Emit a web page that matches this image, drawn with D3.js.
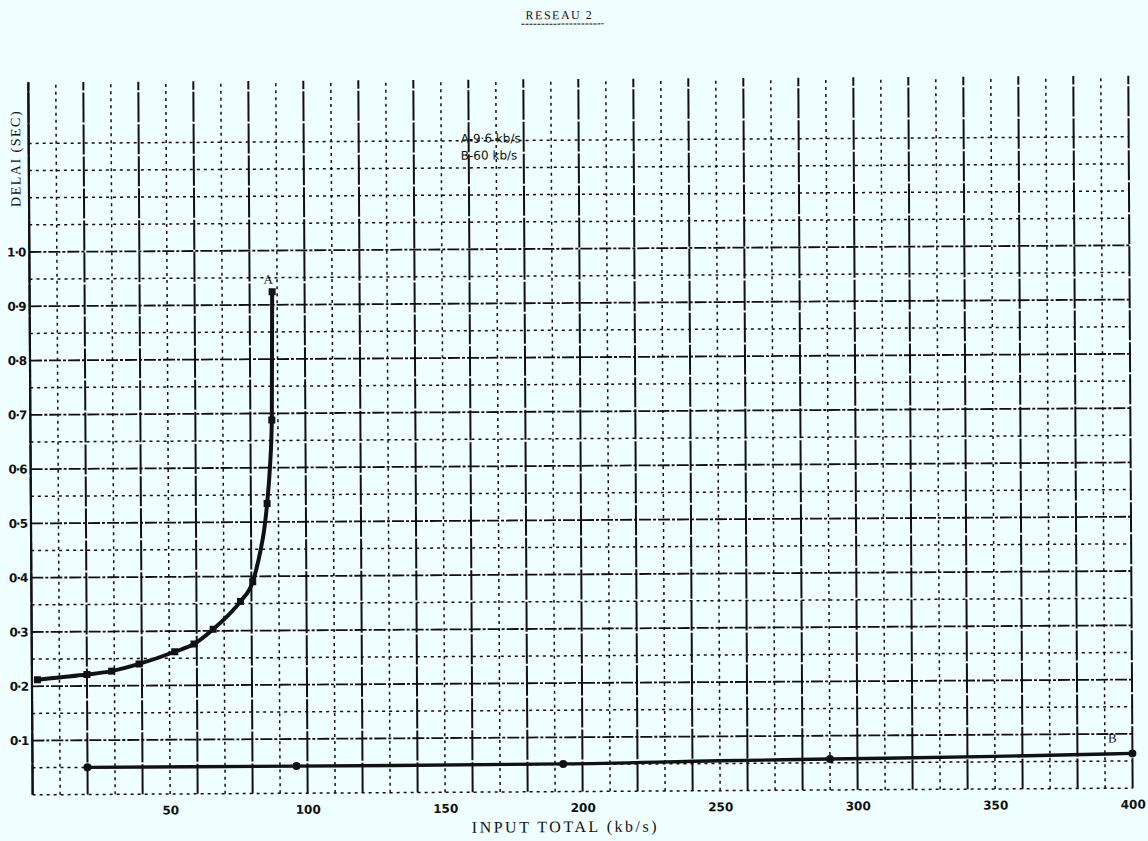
<!DOCTYPE html>
<html>
<head>
<meta charset="utf-8">
<script src="https://cdn.jsdelivr.net/npm/d3@7"></script>
<style>
  html, body { margin: 0; padding: 0; background: #effefe; }
  svg { display: block; }
</style>
</head>
<body>
<div id="chart"></div>
<script>
// curve A: 9.6 kb/s line
const aInput = [2, 10, 20, 29, 39, 52, 59, 66, 71, 76, 80.5, 83.5, 84.7, 85.9, 87, 87.8, 88.2];
const aDelay = [0.212, 0.216, 0.221, 0.227, 0.240, 0.262, 0.276, 0.303, 0.326, 0.354, 0.390, 0.450, 0.483, 0.534, 0.60, 0.688, 0.924];
// points that carry a plotted marker on A
const aMarked = [2, 20, 29, 39, 52, 59, 66, 76, 80.5, 85.9, 87.8, 88.2];

// curve B: 60 kb/s line
const bInput = [20, 96, 193, 250, 290, 350, 400];
const bDelay = [0.050, 0.050, 0.051, 0.055, 0.057, 0.060, 0.064];
const bMarked = [20, 96, 193, 290, 400];

const xTicks = [50, 100, 150, 200, 250, 300, 350, 400];
const yTicks = [0.1, 0.2, 0.3, 0.4, 0.5, 0.6, 0.7, 0.8, 0.9, 1.0];

const legendLines = ["A-9·6 kb/s", "B-60 kb/s"];

const ink = "#111";
const margin = { top: 79, left: 30.5 },
  width = 1100,
  height = 712.5;

const svg = d3
  .select("#chart")
  .append("svg")
  .attr("width", 1148)
  .attr("height", 841)
  .style("background", "#effefe");

// the scan is slightly tilted
const page = svg.append("g").attr("transform", "rotate(-0.35, 580, 440)");

const g = page
  .append("g")
  .attr("transform", `translate(${margin.left},${margin.top})`);

const x = d3.scaleLinear().domain([0, 400]).range([0, width]);
const y = d3.scaleLinear().domain([0, 1.3125]).range([height, 0]);

// graph paper: every 10 kb/s, solid on multiples of 20
const vLines = d3.range(0, 401, 10);
g.selectAll(".vline")
  .data(vLines)
  .join("line")
  .attr("class", "vline")
  .attr("x1", (d) => x(d))
  .attr("x2", (d) => x(d))
  .attr("y1", y(0))
  .attr("y2", y(1.3125))
  .attr("stroke", ink)
  .attr("stroke-width", (d) => (d % 20 === 0 ? 2 : 1.5))
  .attr("stroke-dasharray", (d) => (d % 20 === 0 ? "30,2" : "3,4"));

// every 0.05 s, solid on tenths
const hLines = d3.range(0, 25).map((i) => i * 0.05);
g.selectAll(".hline")
  .data(hLines)
  .join("line")
  .attr("class", "hline")
  .attr("x1", x(0))
  .attr("x2", x(400))
  .attr("y1", (d) => y(d))
  .attr("y2", (d) => y(d))
  .attr("stroke", ink)
  .attr("stroke-width", (d, i) => (i % 2 === 0 && i > 0 && i < 22 ? 1.8 : 1.5))
  .attr("stroke-dasharray", (d, i) => (i % 2 === 0 && i > 0 && i < 22 ? "12,2,3,2" : "3,4"));

// left edge
g.append("line")
  .attr("x1", x(0))
  .attr("x2", x(0))
  .attr("y1", y(0))
  .attr("y2", y(1.3125))
  .attr("stroke", ink)
  .attr("stroke-width", 2.2);

// axes (labels only)
const xAxis = g
  .append("g")
  .attr("transform", `translate(0, ${height})`)
  .call(d3.axisBottom(x).tickValues(xTicks).tickSize(0).tickPadding(12));
xAxis.select(".domain").remove();
xAxis
  .selectAll("text")
  .attr("fill", ink)
  .style("font-family", "DejaVu Sans, sans-serif")
  .style("font-weight", "bold")
  .style("font-size", "12px");

const yAxis = g
  .append("g")
  .call(
    d3
      .axisLeft(y)
      .tickValues(yTicks)
      .tickSize(0)
      .tickPadding(4)
      .tickFormat((d) => d.toFixed(1).replace(".", "·"))
  );
yAxis.select(".domain").remove();
yAxis
  .selectAll("text")
  .attr("fill", ink)
  .style("font-family", "DejaVu Sans, sans-serif")
  .style("font-weight", "bold")
  .style("font-size", "12px")
  .style("letter-spacing", "-1px");

// curves
const line = d3
  .line()
  .curve(d3.curveMonotoneX)
  .x((d) => x(d[0]))
  .y((d) => y(d[1]));

const aData = aInput.map((v, i) => [v, aDelay[i]]);
const bData = bInput.map((v, i) => [v, bDelay[i]]);

g.append("path")
  .datum(aData)
  .attr("fill", "none")
  .attr("stroke", ink)
  .attr("stroke-width", 4)
  .attr("stroke-linejoin", "round")
  .attr("d", line);

g.append("path")
  .datum(bData)
  .attr("fill", "none")
  .attr("stroke", ink)
  .attr("stroke-width", 3.4)
  .attr("stroke-linejoin", "round")
  .attr("d", line);

g.selectAll(".amark")
  .data(aData.filter((d) => aMarked.includes(d[0])))
  .join("rect")
  .attr("class", "amark")
  .attr("x", (d) => x(d[0]) - 3.5)
  .attr("y", (d) => y(d[1]) - 3.5)
  .attr("width", 7)
  .attr("height", 7)
  .attr("fill", ink);

g.selectAll(".bmark")
  .data(bData.filter((d) => bMarked.includes(d[0])))
  .join("circle")
  .attr("class", "bmark")
  .attr("cx", (d) => x(d[0]))
  .attr("cy", (d) => y(d[1]))
  .attr("r", 4)
  .attr("fill", ink);

// curve labels
g.append("text")
  .attr("x", x(aInput[aInput.length - 1]) - 4)
  .attr("y", y(aDelay[aDelay.length - 1]) - 8)
  .attr("text-anchor", "middle")
  .attr("fill", ink)
  .style("font-family", "Liberation Serif, serif")
  .style("font-size", "13px")
  .text("A");

g.append("text")
  .attr("x", x(bInput[bInput.length - 1]) - 20)
  .attr("y", y(bDelay[bDelay.length - 1]) - 11)
  .attr("text-anchor", "middle")
  .attr("fill", ink)
  .style("font-family", "Liberation Serif, serif")
  .style("font-size", "13px")
  .text("B");

// legend
g.selectAll(".legend")
  .data(legendLines)
  .join("text")
  .attr("class", "legend")
  .attr("x", 432)
  .attr("y", (d, i) => 63 + i * 17)
  .attr("fill", ink)
  .style("font-family", "DejaVu Sans, sans-serif")
  .style("font-size", "12px")
  .text((d) => d);

// titles
page
  .append("text")
  .attr("x", 563)
  .attr("y", 832)
  .attr("text-anchor", "middle")
  .attr("fill", ink)
  .style("font-family", "Liberation Serif, serif")
  .style("font-size", "16px")
  .style("letter-spacing", "2.5px")
  .text("INPUT TOTAL (kb/s)");

page
  .append("text")
  .attr("transform", "translate(22, 155) rotate(-90)")
  .attr("text-anchor", "middle")
  .attr("fill", ink)
  .style("font-family", "Liberation Serif, serif")
  .style("font-size", "14px")
  .style("letter-spacing", "1.5px")
  .text("DELAI (SEC)");

page
  .append("text")
  .attr("x", 562)
  .attr("y", 19)
  .attr("text-anchor", "middle")
  .attr("fill", ink)
  .style("font-family", "Liberation Serif, serif")
  .style("font-size", "12px")
  .style("letter-spacing", "1.5px")
  .text("RESEAU 2");

page
  .append("line")
  .attr("x1", 524)
  .attr("x2", 606)
  .attr("y1", 24)
  .attr("y2", 24)
  .attr("stroke", ink)
  .attr("stroke-width", 1)
  .attr("stroke-dasharray", "3,1");
</script>
</body>
</html>
